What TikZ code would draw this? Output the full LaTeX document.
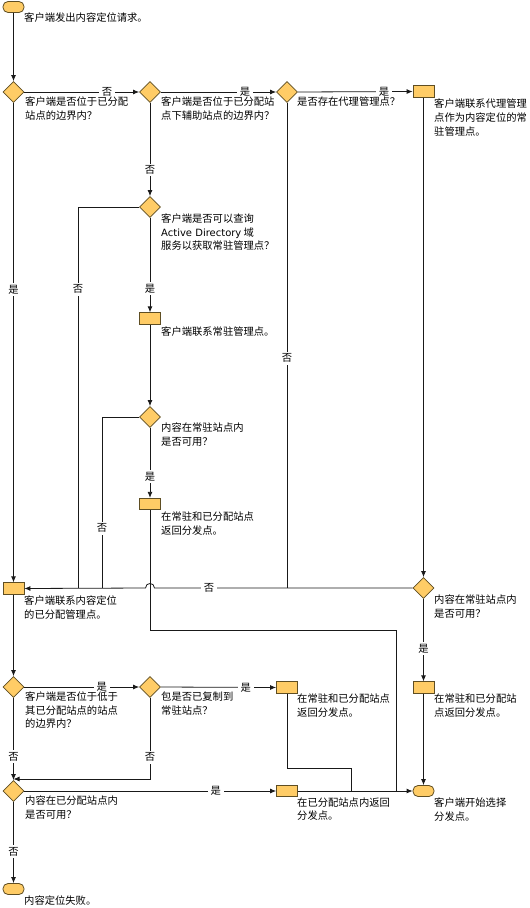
\documentclass[tikz,border=0pt]{standalone}
\usepackage{fontspec}
\setmainfont{Noto Sans CJK SC}
\newfontfamily\latf{DejaVu Sans}
\usetikzlibrary{shapes.geometric,arrows.meta}
\definecolor{shapefill}{RGB}{255,204,102}
\definecolor{shapeedge}{RGB}{95,78,35}
\definecolor{linec}{RGB}{25,25,25}
\begin{document}
\begin{tikzpicture}[x=1pt,y=-1pt,
  every node/.style={inner sep=0pt},
  term/.style={draw=shapeedge, fill=shapefill, rounded corners=5pt, minimum width=21pt, minimum height=11pt, line width=0.8pt},
  dec/.style={diamond, draw=shapeedge, fill=shapefill, minimum width=21pt, minimum height=21pt, aspect=1, line width=0.8pt},
  act/.style={rectangle, draw=shapeedge, fill=shapefill, minimum width=21pt, minimum height=11.5pt, line width=0.8pt},
  txt/.style={anchor=north west, align=left, font=\fontsize{10.3}{13.8}\selectfont},
  conn/.style={draw=linec, line width=0.8pt},
  arr/.style={conn, -{Latex[length=6pt,width=5pt]}},
  lbl/.style={fill=white, inner xsep=3pt, inner ysep=-2.5pt, font=\fontsize{10.3}{12}\selectfont},
  lblv/.style={fill=white, inner xsep=-2pt, inner ysep=2pt, font=\fontsize{10.3}{12}\selectfont}
]
\path[use as bounding box] (0,0) rectangle (530,908);

% shapes
\node[term] (t0) at (13.5,7) {};
\node[dec] (d1) at (13.5,92) {};
\node[dec] (d2) at (150,92) {};
\node[dec] (d3) at (287,92) {};
\node[act] (r1) at (423.5,91.5) {};
\node[dec] (d4) at (150,207) {};
\node[act] (r2) at (150,318.5) {};
\node[dec] (d5) at (150,417) {};
\node[act] (r3) at (150,504) {};
\node[act] (r4) at (13.5,588.5) {};
\node[dec] (d6) at (423.5,588) {};
\node[act] (r5) at (423.5,687.5) {};
\node[term] (t1) at (423.5,791) {};
\node[dec] (d7) at (13.5,687) {};
\node[dec] (d8) at (150,687) {};
\node[act] (r6) at (287,687.5) {};
\node[dec] (d9) at (13.5,791) {};
\node[act] (r7) at (287,791) {};
\node[term] (t2) at (13.5,889) {};

% texts
\node[txt] (x0) at (24,12.3) {客户端发出内容定位请求。};
\node[txt] (xd1) at (25,96.3) {客户端是否位于已分配\\站点的边界内？};
\node[txt] (xd2) at (161,96.3) {客户端是否位于已分配站\\点下辅助站点的边界内？};
\node[txt] (xd3) at (297,96.3) {是否存在代理管理点？};
\node[txt] (xr1) at (434,98.5) {客户端联系代理管理\\点作为内容定位的常\\驻管理点。};
\node[txt] (xd4) at (161,213.3) {客户端是否可以查询\\{\latf\fontsize{10}{13.8}\selectfont Active Directory} 域\\服务以获取常驻管理点？};
\node[txt] (xr2) at (161,326.5) {客户端联系常驻管理点。};
\node[txt] (xd5) at (161,422.3) {内容在常驻站点内\\是否可用？};
\node[txt] (xr3) at (161,511.5) {在常驻和已分配站点\\返回分发点。};
\node[txt] (xr4) at (24,595.8) {客户端联系内容定位\\的已分配管理点。};
\node[txt] (xd6) at (434,594.3) {内容在常驻站点内\\是否可用？};
\node[txt] (xr5) at (434,693.5) {在常驻和已分配站\\点返回分发点。};
\node[txt] (xt1) at (434,797.3) {客户端开始选择\\分发点。};
\node[txt] (xd7) at (25,691.3) {客户端是否位于低于\\其已分配站点的站点\\的边界内？};
\node[txt] (xd8) at (161,691.3) {包是否已复制到\\常驻站点？};
\node[txt] (xr6) at (297,693.5) {在常驻和已分配站点\\返回分发点。};
\node[txt] (xd9) at (25,795.5) {内容在已分配站点内\\是否可用？};
\node[txt] (xr7) at (297,797.3) {在已分配站点内返回\\分发点。};
\node[txt] (xt2) at (24,895.3) {内容定位失败。};

% junction coordinates
\coordinate (j1) at (78,588);
\coordinate (j2) at (102,588);
\coordinate (j3) at (287,588);
\coordinate (hop) at (150,588);
\coordinate (k1) at (396,630);
\coordinate (jt1) at (396,791);
\coordinate (k3) at (351,768);
\coordinate (jt2) at (351,791);
\coordinate (m1) at (13.5,779);

% connectors
\draw[arr] (t0.south) -- (d1.north);
\draw[arr] (d1.east) -- node[lbl,pos=0.72]{否} (d2.west);
\draw[arr] (d2.east) -- node[lbl,pos=0.73]{是} (d3.west);
\draw[arr] (d3.east) -- node[lbl,pos=0.75]{是} (r1.west);
\draw[arr] (d2.south) -- node[lblv,pos=0.72]{否} (d4.north);
\draw[arr] (d1.south) -- node[lblv,pos=0.39]{是} (r4.north);
\draw[conn] (d4.west) -| node[lblv,pos=0.608]{否} (j1);
\draw[arr] (d4.south) -- node[lblv,pos=0.75]{是} (r2.north);
\draw[arr] (r2.south) -- (d5.north);
\draw[conn] (d5.west) -| node[lblv,pos=0.825]{否} (j2);
\draw[arr] (d5.south) -- node[lblv,pos=0.70]{是} (r3.north);
\draw[conn] (d3.south) -- node[lblv,pos=0.526]{否} (j3);
\draw[arr] (r1.south) -- (d6.north);
\draw[conn] (r3.south) |- (k1) -- (jt1);
\draw[arr] (d6.west) -- node[lbl,pos=0.789]{否} ([xshift=4.5pt]hop)
  .. controls +(0,-6) and +(0,-6) .. ([xshift=-4.5pt]hop) -- (r4.east);
\draw[arr] (d6.south) -- node[lblv,pos=0.607]{是} (r5.north);
\draw[arr] (r5.south) -- (t1.north);
\draw[arr] (r4.south) -- (d7.north);
\draw[arr] (d7.east) -- node[lbl,pos=0.675]{是} (d8.west);
\draw[arr] (d8.east) -- node[lbl,pos=0.737]{是} (r6.west);
\draw[conn] (r6.south) |- (k3) -- (jt2);
\draw[arr] (d7.south) -- node[lblv,pos=0.717]{否} (d9.north);
\draw[arr] (d8.south) |- node[lblv,pos=0.365]{否} (m1);
\draw[arr] (d9.east) -- node[lbl,pos=0.76]{是} (r7.west);
\draw[arr] (r7.east) -- (t1.west);
\draw[arr] (d9.south) -- node[lblv,pos=0.616]{否} (t2.north);
\end{tikzpicture}
\end{document}
